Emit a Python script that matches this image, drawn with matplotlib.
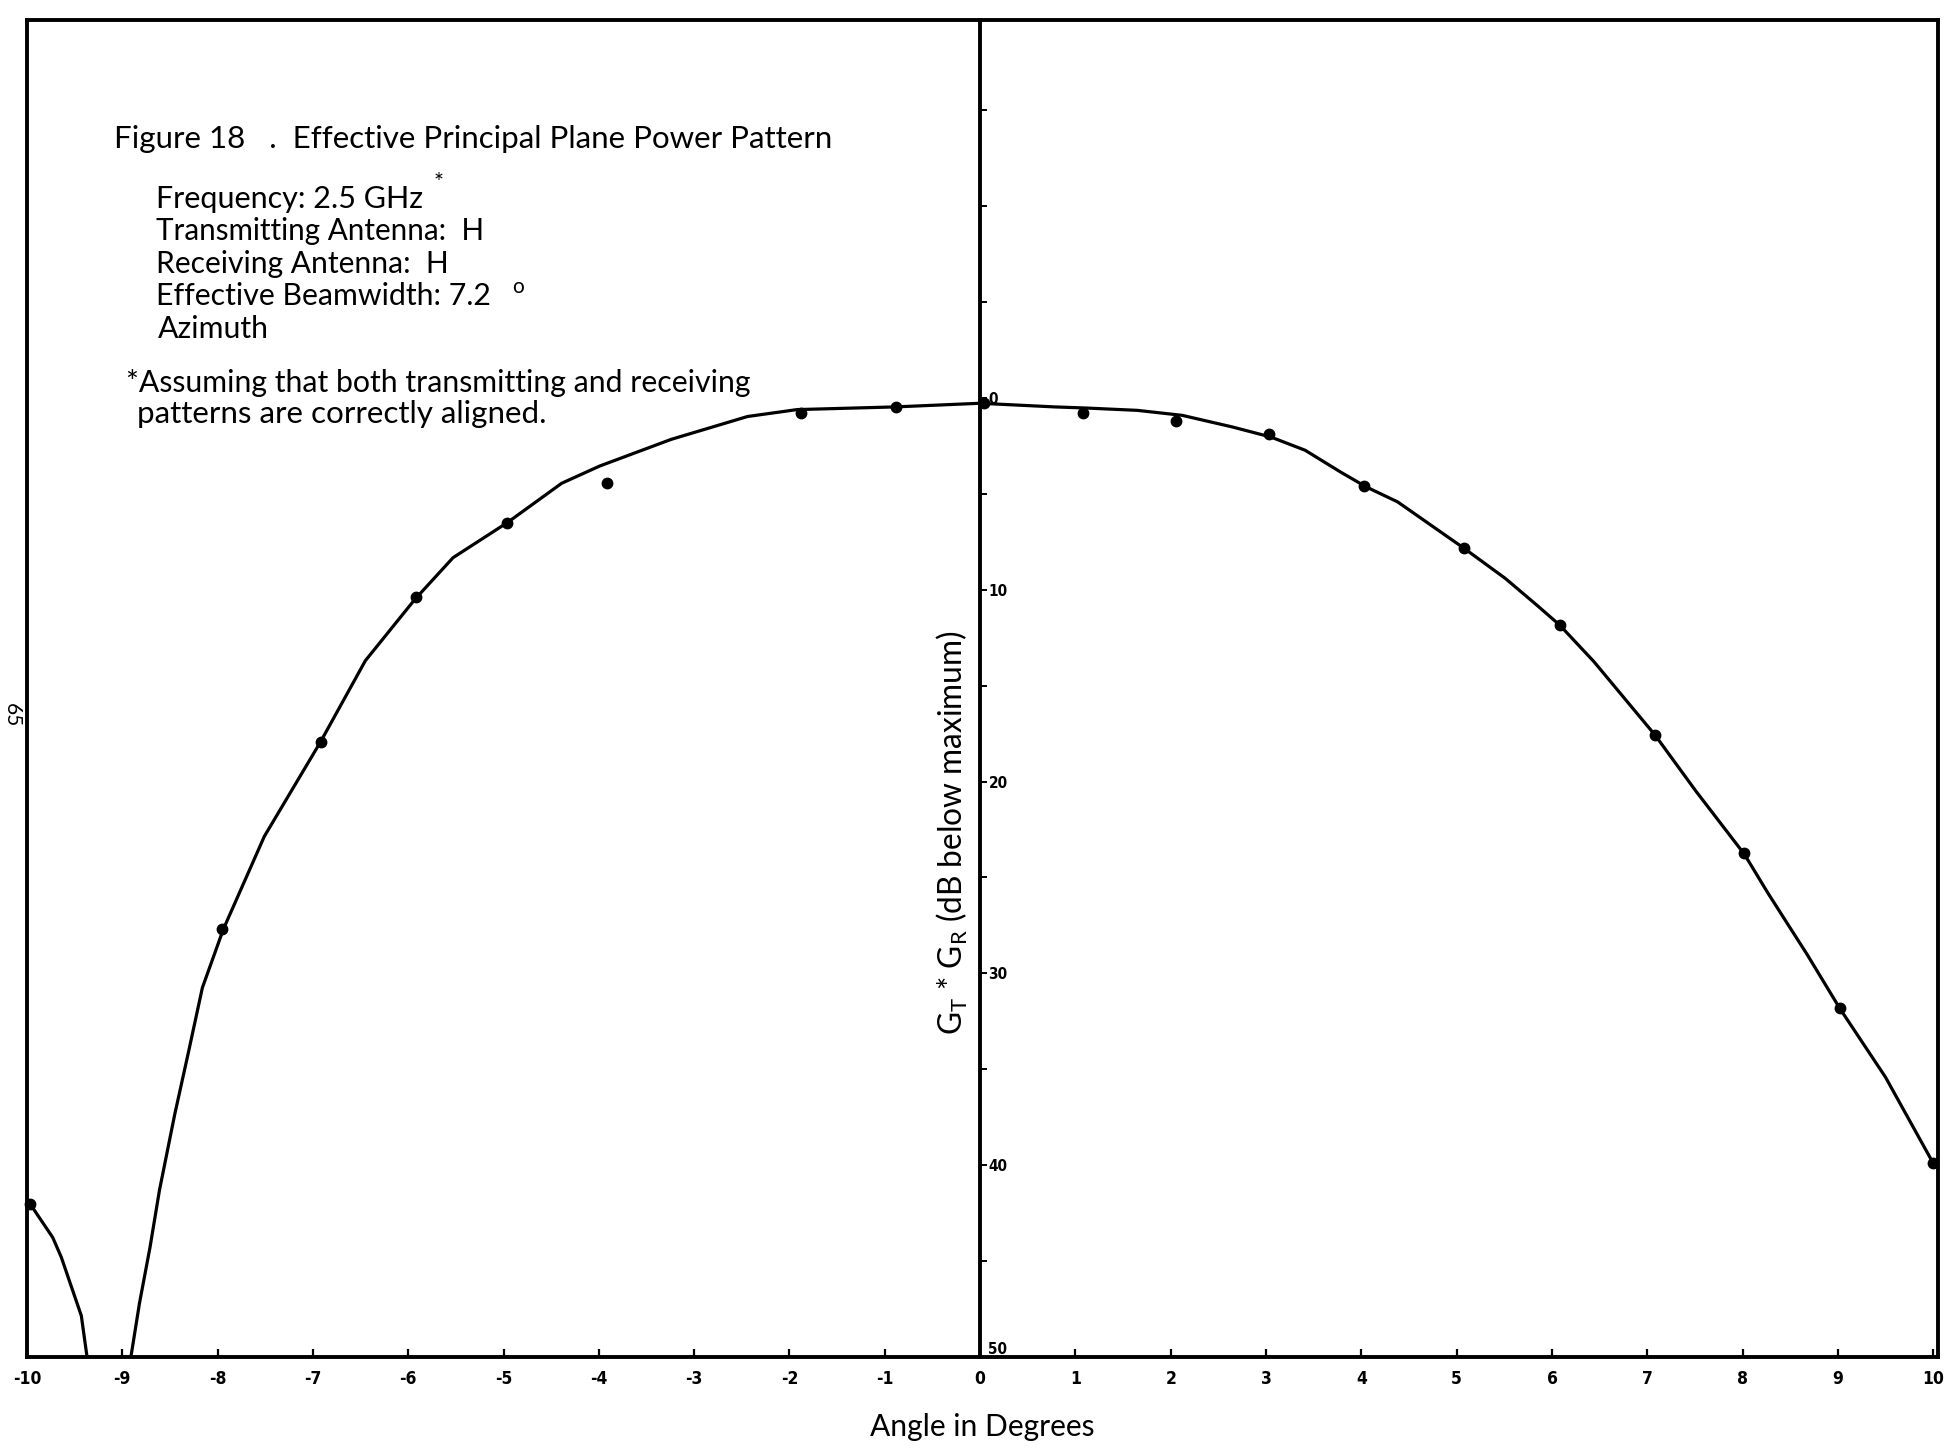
import matplotlib
matplotlib.use("Agg")
import matplotlib.pyplot as plt

# ---------------- data ----------------
# smooth hand-drawn main lobe curve (angle in degrees, dB below maximum)
curve_angle = [-8.91, -8.82, -8.71, -8.61, -8.45, -8.31, -8.16, -7.94, -7.51,
               -6.92, -6.45, -5.93, -5.53, -4.96, -4.39, -3.99, -3.24, -2.44,
               -1.92, -0.89, 0.0, 0.78, 1.12, 1.65, 2.12, 2.65, 3.05, 3.41,
               3.78, 4.05, 4.38, 5.08, 5.51, 5.84, 6.08, 6.44, 7.08, 7.51,
               8.02, 8.27, 8.68, 9.02, 9.50, 10.0]
curve_db = [50.0, 47.2, 44.3, 41.3, 37.35, 34.2, 30.75, 27.7, 22.86,
            17.93, 13.7, 10.5, 8.33, 6.5, 4.45, 3.55, 2.16, 0.97,
            0.61, 0.47, 0.28, 0.47, 0.53, 0.65, 0.91, 1.52, 2.04, 2.73,
            3.86, 4.64, 5.42, 7.85, 9.41, 10.8, 11.84, 13.75, 17.57, 20.5,
            23.8, 25.85, 29.04, 31.83, 35.42, 39.9]

# side lobe at the left edge
lobe_angle = [-9.97, -9.73, -9.64, -9.43, -9.37]
lobe_db = [42.0, 43.77, 44.8, 47.85, 50.0]

# measured points
meas_angle = [-9.97, -7.95, -6.92, -5.92, -4.96, -3.91, -1.88, -0.88, 0.04,
              1.08, 2.05, 3.03, 4.03, 5.08, 6.08, 7.08, 8.01, 9.02, 10.0]
meas_db = [42.0, 27.7, 17.93, 10.4, 6.5, 4.45, 0.81, 0.5, 0.27,
           0.79, 1.22, 1.86, 4.6, 7.85, 11.84, 17.57, 23.75, 31.83, 39.9]

x_ticks = list(range(-10, 11))
x_tick_labels = ["-10", "-9", "-8", "-7", "-6", "-5", "-4", "-3", "-2", "-1",
                 "0", "1", "2", "3", "4", "5", "6", "7", "8", "9", "10"]
y_ticks = [-15, -10, -5, 0, 5, 10, 15, 20, 25, 30, 35, 40, 45, 50]
y_tick_labels = ["", "", "", "0", "", "10", "", "20", "", "30", "", "40", "", "50"]

title_text = "Figure 18   .  Effective Principal Plane Power Pattern"
info_lines = ["Frequency: 2.5 GHz", "Transmitting Antenna:  H",
              "Receiving Antenna:  H", "Effective Beamwidth: 7.2", "Azimuth"]
note_lines = ["*Assuming that both transmitting and receiving",
              "patterns are correctly aligned."]
x_label = "Angle in Degrees"
y_label = r"G$_\mathrm{T}$ * G$_\mathrm{R}$ (dB below maximum)"
page_number = "65"

# ---------------- styling / layout ----------------
plt.rcParams['font.family'] = ['Lato', 'DejaVu Sans']
plt.rcParams['mathtext.fontset'] = 'custom'
plt.rcParams['mathtext.rm'] = 'Lato'
plt.rcParams['mathtext.it'] = 'Lato:italic'
plt.rcParams['mathtext.bf'] = 'Lato:bold'

W, H = 1956, 1452
fig = plt.figure(figsize=(W / 100, H / 100), dpi=100)
fig.patch.set_facecolor('white')

x_left, x_right = 27, 1938
y_top, y_bot = 20, 1357
ax = fig.add_axes([x_left / W, 1 - y_bot / H, (x_right - x_left) / W, (y_bot - y_top) / H])
xlim = (-10.0, 10.05)
ax.set_xlim(*xlim)
ax.set_ylim(50, -19.7)

for s in ax.spines.values():
    s.set_linewidth(2.8)
    s.set_color('black')

ax.set_yticks([])
ax.set_xticks(x_ticks, labels=x_tick_labels, fontsize=12.5, fontweight='bold',
              family='DejaVu Sans', fontstretch='condensed')
ax.tick_params(axis='x', direction='in', length=6, width=1.6, pad=9)

# centre axis at 0 degrees
frac0 = (0 - xlim[0]) / (xlim[1] - xlim[0])
sec = ax.secondary_yaxis(frac0)
sec.set_alignment('right')
sec.set_ticks(y_ticks, labels=y_tick_labels, fontsize=11, fontweight='bold',
              family='DejaVu Sans', fontstretch='condensed')
sec.tick_params(axis='y', direction='out', length=5, width=1.4, pad=1)
sec.spines['right'].set_linewidth(2.8)
last_tick = sec.yaxis.get_major_ticks()[-1]
last_tick.label1.set_va('bottom')
last_tick.label2.set_va('bottom')

# curves and points
ax.plot(curve_angle, curve_db, color='black', lw=2.3, solid_joinstyle='round',
        solid_capstyle='round', zorder=3)
ax.plot(lobe_angle, lobe_db, color='black', lw=2.3, solid_joinstyle='round',
        zorder=3)
ax.plot(meas_angle, meas_db, 'o', color='black', ms=7.5, zorder=4, clip_on=False)

# ---------------- texts ----------------
renderer = fig.canvas.get_renderer()


def put(x_px, base_px, s, width_px, **kw):
    t = fig.text(x_px / W, 1 - base_px / H, s, ha='left', va='baseline',
                 fontsize=20, color='black', **kw)
    bb = t.get_window_extent(renderer)
    t.set_fontsize(20 * width_px / bb.width)
    return t


put(114, 148, title_text, 720)
info_x = [156, 156, 156, 156, 158]
info_base = [208, 240, 273, 305, 338]
info_w = [268, 329, 294, 335, 111]
for xx, bb_, ww, s in zip(info_x, info_base, info_w, info_lines):
    put(xx, bb_, s, ww)
put(126, 392, note_lines[0], 627)
put(137, 423, note_lines[1], 411)

fig.text(439 / W, 1 - 183 / H, "*", ha='center', va='center', fontsize=17)
fig.text(518 / W, 1 - 287 / H, "o", ha='center', va='center', fontsize=15)

# x label
t = fig.text(982 / W, 1 - 1436 / H, x_label, ha='center', va='baseline', fontsize=20)
t.set_fontsize(20 * 226 / t.get_window_extent(renderer).width)

# y label
t = fig.text(952 / W, 1 - 833 / H, y_label, ha='center', va='center',
             rotation=90, fontsize=20)
t.set_fontsize(20 * 405 / t.get_window_extent(renderer).height)

# page number at the margin
fig.text(12 / W, 1 - 715 / H, page_number, ha='center', va='center',
         rotation=-90, fontsize=15)

fig.savefig("out.png", dpi=100, facecolor='white')
